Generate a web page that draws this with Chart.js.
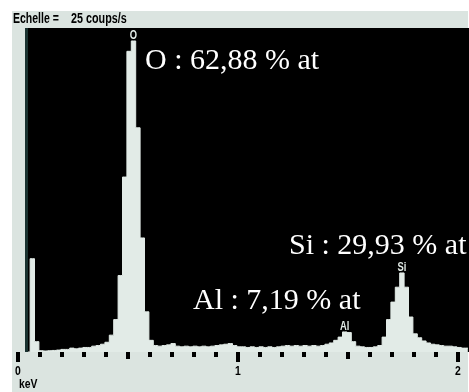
<!DOCTYPE html>
<html>
<head>
<meta charset="utf-8">
<script src="https://cdn.jsdelivr.net/npm/chart.js@4"></script>
<style>
  html, body { margin: 0; padding: 0; background: #fff; }
  canvas { display: block; }
</style>
</head>
<body>
<canvas id="eds" width="469" height="392"></canvas>
<script>
// EDS spectrum, 0.02 keV channels
const channelStart = 0.025;
const channelWidth = 0.02;
const counts = [
  0, 0, 7.2, 0.8, 0.1, 0.08, 0.1, 0.12, 0.15, 0.2,
  0.2, 0.3, 0.25, 0.3, 0.35, 0.35, 0.45, 0.5, 0.6, 0.75,
  1.3, 2.5, 5.9, 13.5, 23.2, 24.0, 17.3, 8.8, 3.1, 0.9,
  0.5, 0.45, 0.5, 0.55, 0.65, 0.45, 0.4, 0.45, 0.4, 0.45,
  0.4, 0.45, 0.4, 0.45, 0.5, 0.55, 0.6, 0.65, 0.5, 0.4,
  0.4, 0.35, 0.4, 0.35, 0.4, 0.35, 0.4, 0.35, 0.4, 0.45,
  0.5, 0.45, 0.5, 0.45, 0.5, 0.45, 0.5, 0.45, 0.5, 0.6,
  0.7, 0.9, 1.15, 1.55, 1.5, 0.8, 0.45, 0.4, 0.35, 0.35,
  0.4, 0.5, 1.15, 2.5, 3.85, 5.0, 6.1, 5.0, 2.7, 1.4,
  1.1, 0.85, 0.7, 0.6, 0.55, 0.5, 0.45, 0.45, 0.4, 0.35,
  0.3, 0.3
];
const energies = counts.map((c, i) => channelStart + i * channelWidth);

// axis ticks (keV)
const tickValues = [0, 0.1, 0.2, 0.3, 0.4, 0.5, 0.6, 0.7, 0.8, 0.9, 1, 1.1, 1.2, 1.3, 1.4, 1.5, 1.6, 1.7, 1.8, 1.9, 2];
const tickLabels = ['0', '1', '2'];
const tickLabelValues = [0, 1, 2];

// peak markers
const peakNames = ['O', 'Al', 'Si'];
const peakEnergies = [0.525, 1.485, 1.745];

// quantification notes
const notes = ['O : 62,88 % at', 'Si : 29,93 % at', 'Al : 7,19 % at'];

const BAR = '#e2ebe7';
const PANEL = '#dbe4e0';
const SANS = '"Liberation Sans", Arial, sans-serif';

function narrow(ctx, text, x, y, font, sx, align) {
  ctx.save();
  ctx.font = font;
  const w = ctx.measureText(text).width * sx;
  let dx = x;
  if (align === 'center') dx = x - w / 2;
  ctx.translate(dx, y);
  ctx.scale(sx, 1);
  ctx.textAlign = 'left';
  ctx.textBaseline = 'alphabetic';
  ctx.fillText(text, 0, 0);
  ctx.restore();
}

const frame = {
  id: 'frame',
  beforeDraw(chart) {
    const { ctx, chartArea: a, scales: { x } } = chart;
    ctx.save();
    ctx.fillStyle = '#fff';
    ctx.fillRect(0, 0, chart.width, chart.height);
    ctx.fillStyle = PANEL;
    ctx.fillRect(12, 11, 456, chart.height - 11);
    const left = Math.round(x.getPixelForValue(0.032));
    ctx.fillStyle = '#000';
    ctx.fillRect(left, a.top, a.right - left, a.bottom - a.top);
    ctx.restore();
  },
  afterDatasetsDraw(chart) {
    const { ctx, chartArea: a, scales: { x, y } } = chart;
    ctx.save();
    const left = Math.round(x.getPixelForValue(0.032));
    ctx.fillStyle = '#1a3230';
    ctx.fillRect(left, a.top, 3, a.bottom - a.top);

    // ticks under the axis
    ctx.fillStyle = '#000';
    tickValues.forEach(v => {
      const px = Math.round(x.getPixelForValue(v));
      let len = 5;
      if (Number.isInteger(v)) len = 10;
      else if (Math.abs(v * 2 - Math.round(v * 2)) < 1e-6) len = 7;
      ctx.fillRect(px - 2, a.bottom, 4, len);
    });
    tickLabels.forEach((t, i) => {
      const px = x.getPixelForValue(tickLabelValues[i]);
      narrow(ctx, t, px, 375, 'bold 13px ' + SANS, 0.8, 'center');
    });
    narrow(ctx, 'keV', 19, 388, 'bold 13px ' + SANS, 0.8, 'left');

    // header
    narrow(ctx, 'Echelle =', 13, 23, 'bold 14px ' + SANS, 0.75, 'left');
    narrow(ctx, '25 coups/s', 71, 23, 'bold 14px ' + SANS, 0.77, 'left');

    // element markers just above each peak
    ctx.fillStyle = BAR;
    peakNames.forEach((n, i) => {
      const e = peakEnergies[i];
      let k = 0;
      energies.forEach((en, j) => { if (Math.abs(en - e) < Math.abs(energies[k] - e)) k = j; });
      const top = Math.max(counts[k], counts[k - 1] || 0, counts[k + 1] || 0);
      const px = x.getPixelForValue(e);
      const py = y.getPixelForValue(top) - 2;
      narrow(ctx, n, px, py, 'bold 13px ' + SANS, 0.72, 'center');
    });

    // notes
    ctx.fillStyle = '#fff';
    ctx.font = '30px "Liberation Serif", "Times New Roman", serif';
    ctx.textBaseline = 'alphabetic';
    ctx.textAlign = 'left';
    ctx.fillText(notes[0], 145, 69);
    ctx.fillText(notes[1], 289, 254);
    ctx.fillText(notes[2], 193, 309);
    ctx.restore();
  }
};

new Chart(document.getElementById('eds'), {
  type: 'line',
  data: {
    datasets: [{
      data: energies.map((e, i) => ({ x: e, y: counts[i] })),
      stepped: 'middle',
      fill: 'origin',
      backgroundColor: BAR,
      borderColor: BAR,
      borderWidth: 1,
      pointRadius: 0
    }]
  },
  options: {
    responsive: false,
    animation: false,
    events: [],
    layout: { padding: { left: 18, right: 0, top: 28, bottom: 40 } },
    plugins: { legend: { display: false }, tooltip: { enabled: false } },
    scales: {
      x: { type: 'linear', display: false, min: 0, max: 2.05 },
      y: { display: false, min: 0, max: 25 }
    }
  },
  plugins: [frame]
});
</script>
</body>
</html>
